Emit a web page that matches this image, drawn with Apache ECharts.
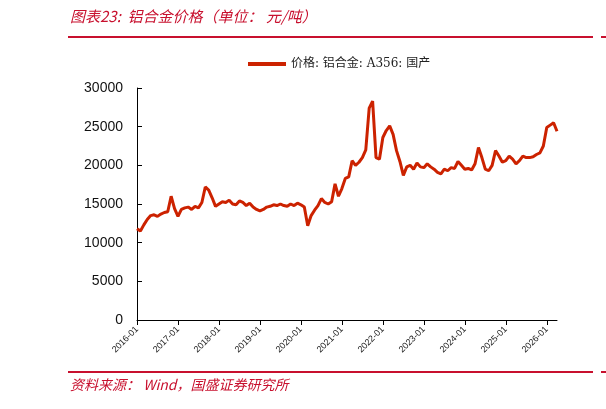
<!DOCTYPE html>
<html><head><meta charset="utf-8">
<script src="https://cdn.jsdelivr.net/npm/echarts@6/dist/echarts.min.js"></script>
<style>html,body{margin:0;background:#fff}#c{width:606px;height:409px}</style>
</head><body><div id="c"></div>
<script>
const seriesName = '价格: 铝合金: A356: 国产';
const startYear = 2016;
const values = [
11800,11500,12300,13000,13500,13600,13400,13700,13900,14000,16000,14400,
13400,14300,14500,14600,14300,14700,14500,15200,17200,16800,15800,14700,
15000,15300,15200,15500,15000,14900,15400,15200,14800,15100,14600,14300,
14100,14300,14600,14700,14900,14800,15000,14800,14700,15000,14800,15100,
14900,14600,12200,13500,14200,14800,15700,15200,15000,15300,17600,16000,
17000,18300,18500,20600,20000,20400,21000,22000,27400,28300,21000,20800,
23600,24500,25100,24000,21900,20500,18700,19800,20000,19500,20300,19800,
19700,20200,19800,19500,19100,18900,19500,19300,19700,19600,20500,20000,
19500,19600,19400,20200,22300,21000,19500,19300,20000,21900,21200,20400,
20600,21200,20800,20200,20600,21200,21000,21000,21100,21400,21600,22500,
24900,25200,25500,24400];
const categories = values.map((v,i)=>{const y=startYear+Math.floor(i/12),m=i%12+1;return y+'-'+String(m).padStart(2,'0');});
const yTicks = [0,5000,10000,15000,20000,25000,30000];
const red = '#C8102E';
const chart = echarts.init(document.getElementById('c'));
chart.setOption({
  animation:false,
  graphic:[
    {type:'text',left:70,top:9,style:{text:'图表23:  铝合金价格（单位： 元/吨）',fill:red,font:'italic 15px "Noto Sans CJK SC"'}},
    {type:'rect',shape:{x:68,y:36,width:525,height:2},style:{fill:red}},
    {type:'rect',shape:{x:601,y:36,width:5,height:2},style:{fill:red}},
    {type:'rect',shape:{x:68,y:371,width:525,height:2},style:{fill:red}},
    {type:'rect',shape:{x:601,y:371,width:5,height:2},style:{fill:red}},
    {type:'text',left:70,top:378,style:{text:'资料来源： Wind，国盛证券研究所',fill:red,font:'italic 14px "Noto Sans CJK SC"'}}
  ],
  legend:{top:53,left:243,itemWidth:38,itemHeight:4,icon:'rect',itemGap:6,
    textStyle:{fontSize:12,color:'#222',fontFamily:'"DejaVu Serif","Noto Sans CJK SC"'},data:[seriesName]},
  grid:{left:137,right:49,top:88,bottom:89},
  xAxis:{type:'category',data:categories,boundaryGap:false,
    axisLine:{lineStyle:{color:'#000'}},
    axisTick:{interval:11,alignWithLabel:true,lineStyle:{color:'#000'}},
    axisLabel:{interval:11,rotate:45,fontSize:9,color:'#222'}},
  yAxis:{type:'value',min:0,max:30000,interval:5000,
    splitLine:{show:false},
    axisLine:{show:true,lineStyle:{color:'#000'}},
    axisTick:{show:true,inside:true,lineStyle:{color:'#000'}},
    axisLabel:{fontSize:14,color:'#111',margin:14,formatter:v=>yTicks.includes(v)?String(v):''}},
  series:[{name:seriesName,type:'line',data:values,showSymbol:false,
    lineStyle:{width:3,color:'#CC2200'},itemStyle:{color:'#CC2200'}}]
});
</script></body></html>
